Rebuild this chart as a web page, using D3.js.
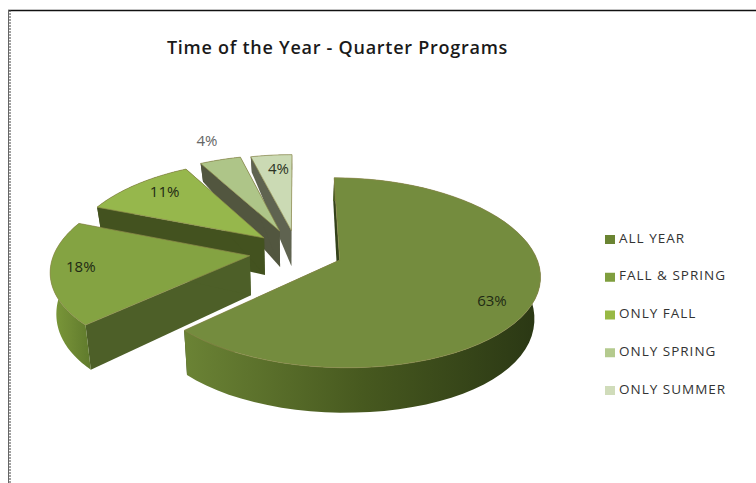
<!DOCTYPE html>
<html>
<head>
<meta charset="utf-8">
<script src="https://cdnjs.cloudflare.com/ajax/libs/d3/7.8.5/d3.min.js"></script>
<style>
html,body{margin:0;padding:0;background:#fff}
svg{display:block}
text{font-family:"Open Sans",sans-serif}
</style>
</head>
<body>
<svg id="chart" width="756" height="483"></svg>
<script>
// Share of quarter programs by time of the year
const categories = ["ALL YEAR", "FALL & SPRING", "ONLY FALL", "ONLY SPRING", "ONLY SUMMER"];
const shares = [63, 18, 11, 4, 4];
const chartTitle = "Time of the Year - Quarter Programs";

// Per-slice appearance
const topColors = ["#748c3e", "#84a342", "#96b74c", "#aec588", "#cbdab4"];
const legendColors = ["#6a8432", "#7f9e3e", "#98b944", "#b4ca8e", "#d0dcba"];
const radialWallColors = ["#33421a", "#4d5f28", "#43521f", "#52563f", "#5f6350"];
const outerWallStops = [
  ["#6b8335", "#47591f", "#2a3714"],
  ["#7c9a3a", "#6f8a34", "#5f7a2c"],
  ["#43521f", "#43521f", "#43521f"],
  ["#52563f", "#52563f", "#52563f"],
  ["#5f6350", "#5f6350", "#5f6350"]
];
const explodeBy = [0.235, 0.245, 0.23, 0.25, 0.24];
const labelReach = [0.8, 0.86, 0.72, 1.22, 0.72];
const labelNudgeX = [-2, 2, -5, -2, 2];
const labelNudgeY = [10, -4, -7, -5, -6];
const labelColors = ["#1f2a14", "#1f2a14", "#1f2a14", "#666", "#2b3324"];

// Tilted-disc projection: a point on the unit disc, pushed out by the explode
// distance, is foreshortened and enlarged as it comes toward the viewer.
const view = {cx: 297, cy: 251.5, rx: 195, ry: 91, perspX: 0.145, perspY: 0.132, depth: 45};

function project(u, v, z) {
  let x = view.cx + view.rx * u / (1 - view.perspX * v);
  let y = view.cy + view.ry * v / (1 - view.perspY * v);
  const wall = view.depth * (1 - 0.133 * (1 - v) * (1 - v));
  y += wall * z;
  x = view.cx + (x - view.cx) * (1 - 0.025 * z);
  return [x, y];
}

const svg = d3.select("#chart");
const defs = svg.append("defs");

// Page frame: solid top rule, dotted left rule
svg.append("line").attr("x1", 8).attr("x2", 756).attr("y1", 10.5).attr("y2", 10.5)
  .attr("stroke", "#111").attr("stroke-width", 1.4);
svg.append("line").attr("x1", 8.5).attr("x2", 8.5).attr("y1", 10).attr("y2", 483)
  .attr("stroke", "#666").attr("stroke-width", 1);
svg.append("line").attr("x1", 10).attr("x2", 10).attr("y1", 10).attr("y2", 483)
  .attr("stroke", "#444").attr("stroke-width", 1).attr("stroke-dasharray", "2,1");

svg.append("text").attr("x", 337.5).attr("y", 54).attr("text-anchor", "middle")
  .attr("font-size", 18).attr("font-weight", 600).attr("fill", "#1a1a1a")
  .attr("letter-spacing", 0.74).text(chartTitle);

const slices = d3.pie().sort(null).startAngle(0).endAngle(2 * Math.PI)(shares);
const line = d3.line();
const pieG = svg.append("g");

// Back slices first so the nearer ones cover them
d3.range(slices.length).reverse().forEach(i => {
  const d = slices[i];
  const mid = (d.startAngle + d.endAngle) / 2;
  const ou = Math.sin(mid) * explodeBy[i];
  const ov = -Math.cos(mid) * explodeBy[i];
  const rim = d3.range(0, 61).map(k => d.startAngle + (d.endAngle - d.startAngle) * k / 60);
  const rimAt = (a, z) => project(ou + Math.sin(a), ov - Math.cos(a), z);
  const apex = z => project(ou, ov, z);

  const topPts = [apex(0), ...rim.map(a => rimAt(a, 0))];
  const outerPts = [...rim.map(a => rimAt(a, 0)), ...rim.slice().reverse().map(a => rimAt(a, 1))];
  const xs = outerPts.map(p => p[0]);

  const grad = defs.append("linearGradient").attr("id", "wall" + i)
    .attr("gradientUnits", "userSpaceOnUse")
    .attr("x1", d3.min(xs)).attr("x2", d3.max(xs)).attr("y1", 0).attr("y2", 0);
  outerWallStops[i].forEach((c, k) => grad.append("stop").attr("offset", k / 2).attr("stop-color", c));

  const g = pieG.append("g");
  [d.startAngle, d.endAngle].forEach(a => {
    g.append("path")
      .attr("d", line([apex(0), rimAt(a, 0), rimAt(a, 1), apex(1)]) + "Z")
      .attr("fill", radialWallColors[i]);
  });
  g.append("path").attr("d", line(outerPts) + "Z").attr("fill", `url(#wall${i})`);
  g.append("path").attr("d", line(topPts) + "Z")
    .attr("fill", topColors[i]).attr("stroke", "#8d8a4a").attr("stroke-width", 0.7);
});

// Percent labels sit along each slice's bisector
slices.forEach((d, i) => {
  const mid = (d.startAngle + d.endAngle) / 2;
  const r = labelReach[i] + explodeBy[i];
  const p = project(Math.sin(mid) * r, -Math.cos(mid) * r, 0);
  svg.append("text").attr("x", p[0] + labelNudgeX[i]).attr("y", p[1] + labelNudgeY[i]).attr("dy", "0.35em")
    .attr("text-anchor", "middle").attr("font-size", 15)
    .attr("fill", labelColors[i]).text(d.value + "%");
});

// Legend
const legendY = d3.scalePoint().domain(categories).range([238, 389]);
const legend = svg.append("g").selectAll("g").data(categories).join("g")
  .attr("transform", c => `translate(605,${legendY(c)})`);
legend.append("rect").attr("x", 0).attr("y", -3).attr("width", 10).attr("height", 9)
  .attr("fill", (c, i) => legendColors[i]);
legend.append("text").attr("x", 14).attr("dy", "0.35em").attr("font-size", 13.5)
  .attr("letter-spacing", 1).attr("fill", "#333").text(c => c);
</script>
</body>
</html>
